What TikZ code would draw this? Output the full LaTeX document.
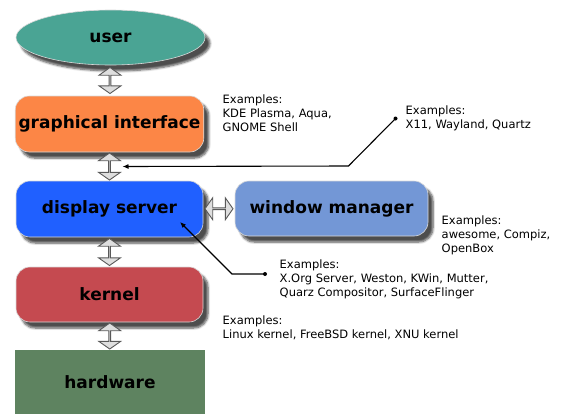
\documentclass[tikz,border=0pt]{standalone}
\usepackage{fontspec}
\setmainfont{DejaVu Sans}
\usetikzlibrary{calc,shapes.geometric,shapes.arrows,shadows.blur,arrows.meta}

\definecolor{userc}{HTML}{4AA494}
\definecolor{guic}{HTML}{FC8646}
\definecolor{dispc}{HTML}{2060FF}
\definecolor{wmc}{HTML}{7397D6}
\definecolor{kernc}{HTML}{C54A50}
\definecolor{hwc}{HTML}{5E8360}

\tikzset{
  plain/.style={draw=black!15, line width=0.6pt, rounded corners=14pt,
    minimum width=187pt, minimum height=56pt,
    font=\fontsize{17}{20}\selectfont\bfseries},
  layer/.style={plain,
    blur shadow={shadow xshift=5pt, shadow yshift=-6pt, shadow blur steps=6,
      shadow opacity=70}},
  dblarrow/.style={double arrow, draw=black!65, line width=0.9pt, fill=black!13,
    inner sep=0pt, minimum width=22pt, double arrow head extend=5pt,
    double arrow tip angle=110, minimum height=#1},
  examples/.style={anchor=north west, inner sep=0pt, align=left,
    font=\fontsize{11.5}{14}\selectfont},
  pin/.style={line width=1.1pt, -{Latex[length=6pt,width=5pt]}}
}

\begin{document}
\begin{tikzpicture}[x=1pt,y=-1pt]
  \useasboundingbox (0,0) rectangle (561,416);
  % the layers
  \node[layer, ellipse, fill=userc, minimum width=189pt, minimum height=55pt] (user) at (110.5,37.5) {user};
  \node[layer, fill=guic] (gui) at (109.5,124) {graphical interface};
  \node[layer, fill=dispc] (ds) at (109.5,209) {display server};
  \node[layer, fill=wmc, minimum width=193pt, minimum height=55pt] (wm) at (331.5,208.5) {window manager};
  \node[layer, fill=kernc, minimum height=55pt] (kern) at (109.5,294.5) {kernel};
  \node[plain, sharp corners, draw=none, fill=hwc, minimum width=190pt, minimum height=64pt] (hw) at (110,382) {hardware};
  % arrows between them
  \node[dblarrow=26pt, rotate=90] (a1) at ($(user.south)!0.5!(gui.north)$) {};
  \node[dblarrow=27pt, rotate=90] (a2) at ($(gui.south)!0.5!(ds.north)$) {};
  \node[dblarrow=27pt, rotate=90] (a3) at ($(ds.south)!0.5!(kern.north)$) {};
  \node[dblarrow=26pt, rotate=90] (a4) at ($(kern.south)!0.5!(hw.north)$) {};
  \node[dblarrow=28pt] (a5) at ($(ds.east)!0.5!(wm.west)$) {};
  % examples
  \node[examples] (guiex) at (222.5,94.6) {Examples:\\KDE Plasma, Aqua,\\GNOME Shell};
  \node[examples] (x11ex) at (405.5,105.6) {Examples:\\X11, Wayland, Quartz};
  \node[examples] (wmex) at (441.5,215.6) {Examples:\\awesome, Compiz,\\OpenBox};
  \node[examples] (dsex) at (279.5,259.6) {Examples:\\X.Org Server, Weston, KWin, Mutter,\\Quarz Compositor, SurfaceFlinger};
  \node[examples] (kernex) at (222.5,315.6) {Examples:\\Linux kernel, FreeBSD kernel, XNU kernel};
  % pins
  \coordinate (xpin) at (395.5,118.5);
  \coordinate (xtip) at ($(a2.center)+(13,0)$);
  \coordinate (dpin) at (265,274);
  \coordinate (dtip) at ($(ds.center)+(70.5,13)$);
  \fill (xpin) circle (2pt);
  \fill (dpin) circle (2pt);
  \draw[pin] (xpin) -- ++(-47,47.5) -- (xtip);
  \draw[pin] (dpin) -- ++(-33,0) -- (dtip);
\end{tikzpicture}
\end{document}
